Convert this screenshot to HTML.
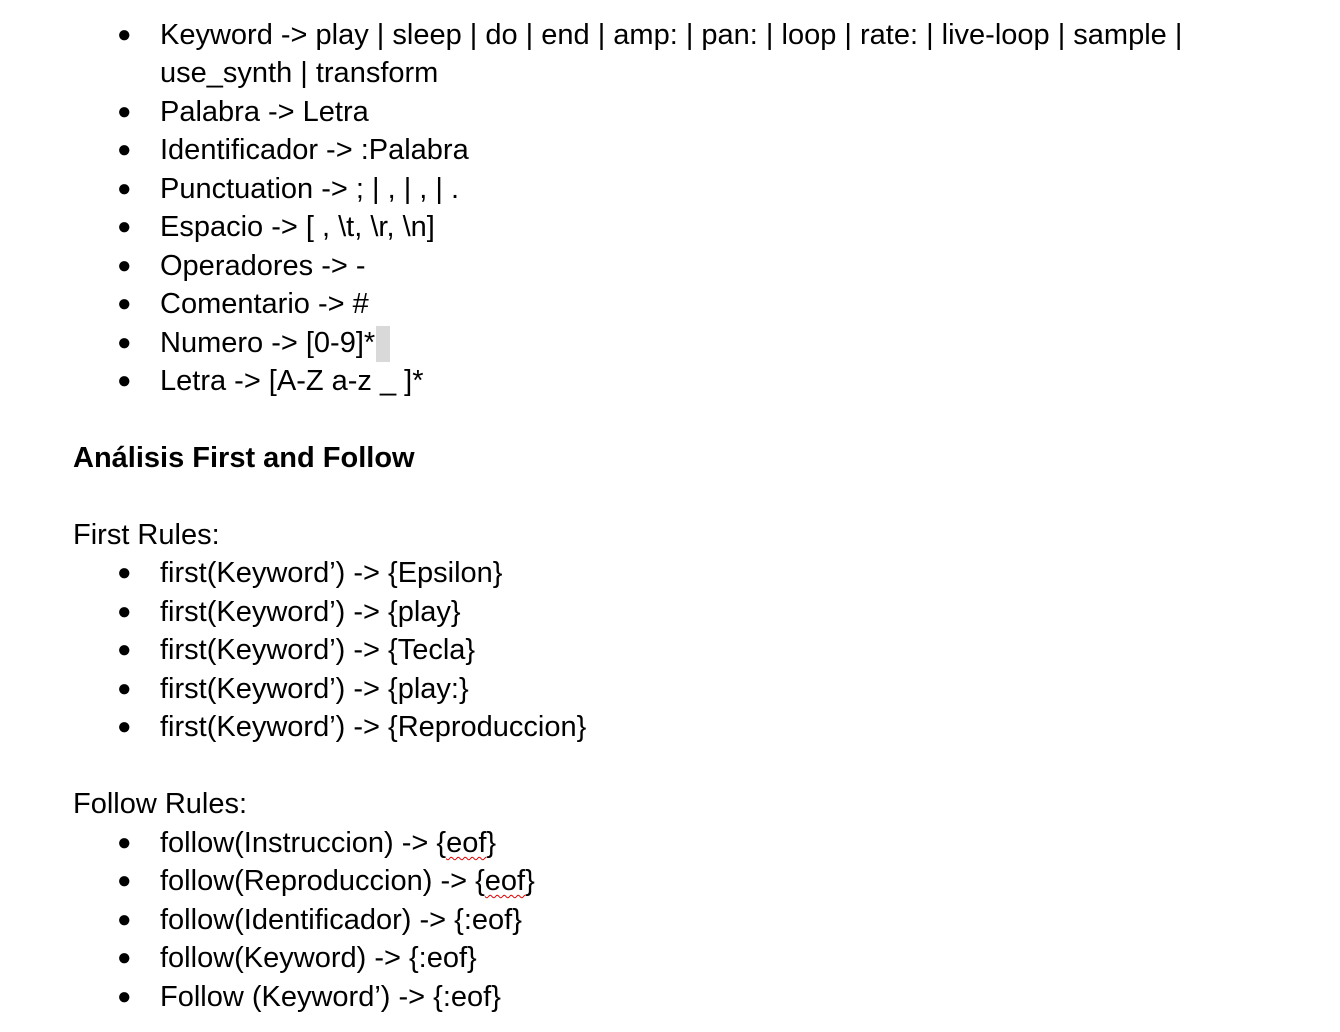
<!DOCTYPE html>
<html><head><meta charset="utf-8"><style>
html,body{margin:0;padding:0;background:#fff;width:1340px;height:1032px;overflow:hidden;}
body{font-family:"Liberation Sans",Arial,sans-serif;font-size:29px;color:#000;position:relative;}
.l{position:absolute;left:160px;height:38px;line-height:38px;white-space:nowrap;margin-top:1px;}
.b{position:absolute;left:117px;height:38px;line-height:38px;font-size:24px;margin-top:1px;}
.h{position:absolute;left:73px;height:38px;line-height:38px;white-space:nowrap;margin-top:1px;}
.sq{text-decoration:underline wavy #d00;text-decoration-thickness:1px;text-underline-offset:4px;}
.sel{display:inline-block;width:14px;height:36px;background:#d9d9d9;vertical-align:middle;margin-left:1px;}
</style></head><body>
<div class="b" style="top:15px">●</div><div class="l" style="top:15px">Keyword -&gt; play | sleep | do | end | amp: | pan: | loop | rate: | live-loop | sample |</div>
<div class="l" style="top:53px">use_synth | transform</div>
<div class="b" style="top:92px">●</div><div class="l" style="top:92px">Palabra -&gt; Letra</div>
<div class="b" style="top:130px">●</div><div class="l" style="top:130px">Identificador -&gt; :Palabra</div>
<div class="b" style="top:169px">●</div><div class="l" style="top:169px">Punctuation -&gt; ; | , | , | .</div>
<div class="b" style="top:207px">●</div><div class="l" style="top:207px">Espacio -&gt; [ , \t, \r, \n]</div>
<div class="b" style="top:246px">●</div><div class="l" style="top:246px">Operadores -&gt; -</div>
<div class="b" style="top:284px">●</div><div class="l" style="top:284px">Comentario -&gt; #</div>
<div class="b" style="top:323px">●</div><div class="l" style="top:323px">Numero -&gt; [0-9]*<span class="sel"></span></div>
<div class="b" style="top:361px">●</div><div class="l" style="top:361px">Letra -&gt; [A-Z a-z _ ]*</div>
<div class="h" style="top:438px;font-weight:bold">Análisis First and Follow</div>
<div class="h" style="top:515px">First Rules:</div>
<div class="b" style="top:553px">●</div><div class="l" style="top:553px">first(Keyword’) -&gt; {Epsilon}</div>
<div class="b" style="top:592px">●</div><div class="l" style="top:592px">first(Keyword’) -&gt; {play}</div>
<div class="b" style="top:630px">●</div><div class="l" style="top:630px">first(Keyword’) -&gt; {Tecla}</div>
<div class="b" style="top:669px">●</div><div class="l" style="top:669px">first(Keyword’) -&gt; {play:}</div>
<div class="b" style="top:707px">●</div><div class="l" style="top:707px">first(Keyword’) -&gt; {Reproduccion}</div>
<div class="h" style="top:784px">Follow Rules:</div>
<div class="b" style="top:823px">●</div><div class="l" style="top:823px">follow(Instruccion) -&gt; {<span class="sq">eof</span>}</div>
<div class="b" style="top:861px">●</div><div class="l" style="top:861px">follow(Reproduccion) -&gt; {<span class="sq">eof</span>}</div>
<div class="b" style="top:900px">●</div><div class="l" style="top:900px">follow(Identificador) -&gt; {:eof}</div>
<div class="b" style="top:938px">●</div><div class="l" style="top:938px">follow(Keyword) -&gt; {:eof}</div>
<div class="b" style="top:977px">●</div><div class="l" style="top:977px">Follow (Keyword’) -&gt; {:eof}</div>
</body></html>
